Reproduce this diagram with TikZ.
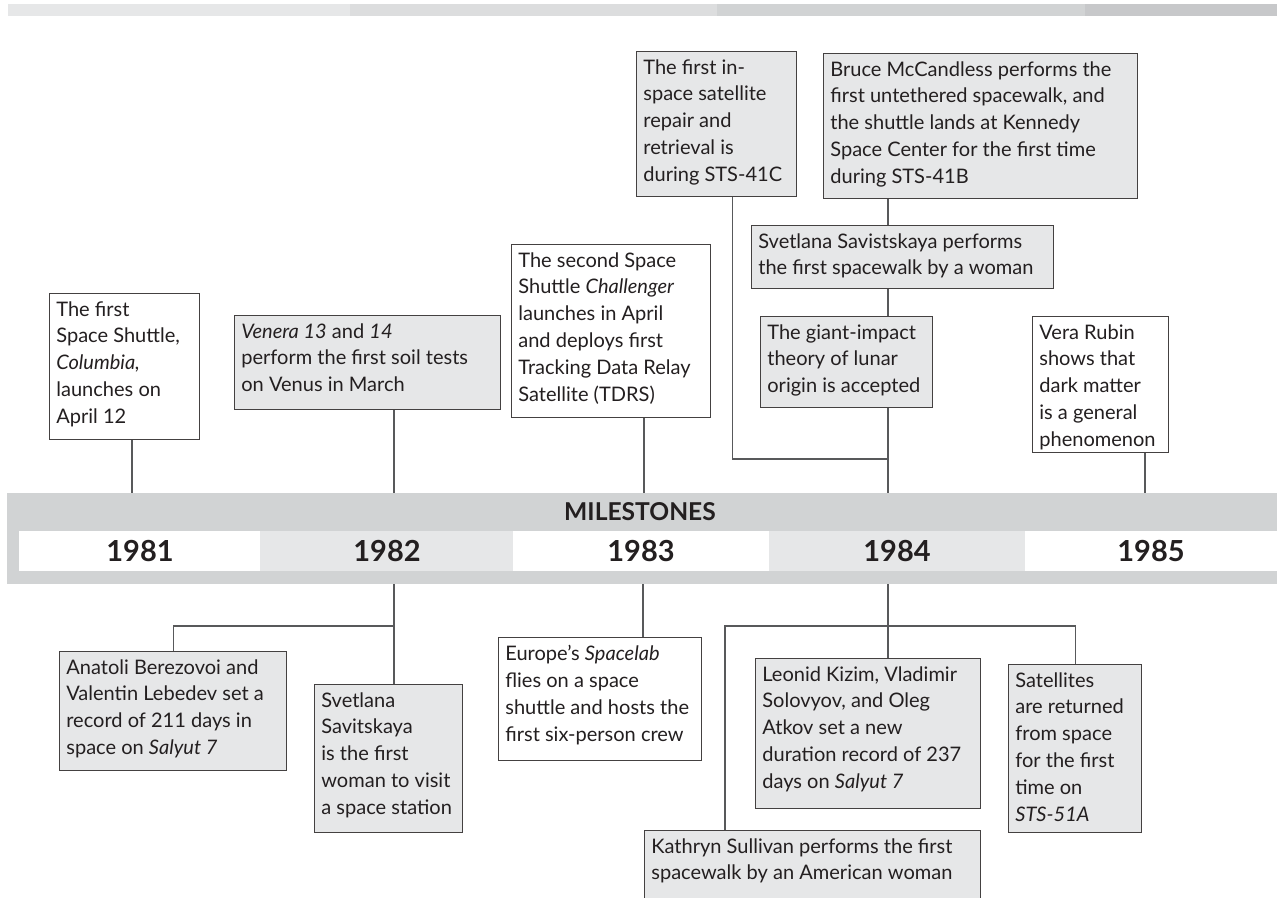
\documentclass[tikz,border=0pt]{standalone}
\usepackage{fontspec}
\setmainfont{Lato}
\usetikzlibrary{positioning}
\definecolor{ink}{HTML}{231F20}
\definecolor{boxgray}{HTML}{E6E7E8}
\definecolor{bargray}{HTML}{D1D3D4}
\definecolor{linegray}{HTML}{58595B}
\definecolor{stripA}{HTML}{E6E7E8}
\definecolor{stripB}{HTML}{DCDDDE}
\definecolor{stripC}{HTML}{D1D3D4}
\definecolor{stripD}{HTML}{C7C8CA}
\tikzset{
x=0.02cm, y=-0.02cm, % one unit is one pixel of the page, y runs downwards
evbox/.style={draw=ink!85, line width=0.8pt, anchor=north west, inner sep=0pt}, % frame of an event
evtext/.style={anchor=north west, align=left, inner xsep=0.14cm, inner ysep=0.16cm,
  text=ink, font=\fontsize{11.4}{15.3}\selectfont}, % text inside the frame
link/.style={draw=linegray, line width=0.7pt}, % connectors to the time bar
year/.style={text=ink, font=\fontsize{16.5}{18}\selectfont\bfseries},
}
% name, x, y, width, height, fill, text
\newcommand{\evbox}[7]{%
  \node[evbox, fill=#6, minimum width=#4*0.02cm, minimum height=#5*0.02cm] (#1) at (#2,#3) {};
  \node[evtext] (#1-t) at (#1.north west) {#7};
}

\begin{document}
\begin{tikzpicture}
\useasboundingbox (0,0) rectangle (1277,898);
% strip along the top
\fill[stripA] (8,4) rectangle (350,16);
\fill[stripB] (350,4) rectangle (717,16);
\fill[stripC] (717,4) rectangle (1085,16);
\fill[stripD] (1085,4) rectangle (1277,16);

% the time bar
\fill[bargray] (7,493) rectangle (1277,584);
\fill[white] (19,531) rectangle (1277,571);
\fill[boxgray] (260,531) rectangle (513,571);
\fill[boxgray] (769,531) rectangle (1025,571);
\node[text=ink, font=\fontsize{14}{16}\selectfont\bfseries] (title) at (640,512) {MILESTONES};
\node[year] (y81) at (140,551) {1981};
\node[year] (y82) at (387,551) {1982};
\node[year] (y83) at (641,551) {1983};
\node[year] (y84) at (897,551) {1984};
\node[year] (y85) at (1151,551) {1985};
\coordinate (t81) at (132,493);
\coordinate (t82) at (394,493);
\coordinate (t83) at (644,493);
\coordinate (t84) at (888,493);
\coordinate (t85) at (1145,493);
\coordinate (b82) at (394,584);
\coordinate (b83) at (643,584);
\coordinate (b84) at (888,584);
\coordinate (j41) at (888,459);
\coordinate (j82) at (394,626);
\coordinate (j84) at (888,626);

% events above the bar
\evbox{col}{49}{293}{150}{146}{white}{The first\\Space Shuttle,\\\textit{Columbia,}\\launches on\\April 12}
\evbox{ven}{234}{315}{266}{94}{boxgray}{\textit{Venera 13} and \textit{14}\\perform the first soil tests\\on Venus in March}
\evbox{chal}{511}{244}{199}{173}{white}{The second Space\\Shuttle \textit{Challenger}\\launches in April\\and deploys first\\Tracking Data Relay\\Satellite (TDRS)}
\evbox{repair}{636}{51}{160}{145}{boxgray}{The first in-\\space satellite\\repair and\\retrieval is\\during STS-41C}
\evbox{bruce}{823}{53}{314}{145}{boxgray}{Bruce McCandless performs the\\first untethered spacewalk, and\\the shuttle lands at Kennedy\\Space Center for the first time\\during STS-41B}
\evbox{walk}{751}{225}{302}{63}{boxgray}{Svetlana Savistskaya performs\\the first spacewalk by a woman}
\evbox{moon}{760}{316}{172}{91}{boxgray}{The giant-impact\\theory of lunar\\origin is accepted}
\evbox{vera}{1032}{316}{136}{136}{white}{Vera Rubin\\shows that\\dark matter\\is a general\\phenomenon}

% events below the bar
\evbox{ber}{59}{651}{227}{119}{boxgray}{Anatoli Berezovoi and\\Valentin Lebedev set a\\record of 211 days in\\space on \textit{Salyut 7}}
\evbox{sav}{314}{684}{148}{148}{boxgray}{Svetlana\\Savitskaya\\is the first\\woman to visit\\a space station}
\evbox{lab}{498}{637}{203}{123}{white}{Europe’s \textit{Spacelab}\\flies on a space\\shuttle and hosts the\\first six-person crew}
\evbox{kiz}{755}{658}{225}{150}{boxgray}{Leonid Kizim, Vladimir\\Solovyov, and Oleg\\Atkov set a new\\duration record of 237\\days on \textit{Salyut 7}}
\evbox{sat}{1008}{664}{133}{168}{boxgray}{Satellites\\are returned\\from space\\for the first\\time on\\\textit{STS-51A}}
\evbox{kath}{644}{830}{336}{100}{boxgray}{Kathryn Sullivan performs the first\\spacewalk by an American woman}

% connectors
\draw[link] (t81 |- col.south) -- (t81);
\draw[link] (t82 |- ven.south) -- (t82);
\draw[link] (t83 |- chal.south) -- (t83);
\draw[link] (t84 |- bruce.south) -- (t84 |- walk.north);
\draw[link] (t84 |- walk.south) -- (t84 |- moon.north);
\draw[link] (t84 |- moon.south) -- (t84);
\draw[link] (repair.south) ++(16,0) |- (j41);
\draw[link] (t85 |- vera.south) -- (t85);
\draw[link] (b82) -- (b82 |- sav.north);
\draw[link] (j82) -| (ber.north);
\draw[link] (b83) -- (b83 |- lab.north);
\draw[link] (b84) -- (b84 |- kiz.north);
\draw[link] (j84) -| (sat.north);
\draw[link] (kath.north west) ++(81,0) |- (j84);
\end{tikzpicture}
\end{document}
